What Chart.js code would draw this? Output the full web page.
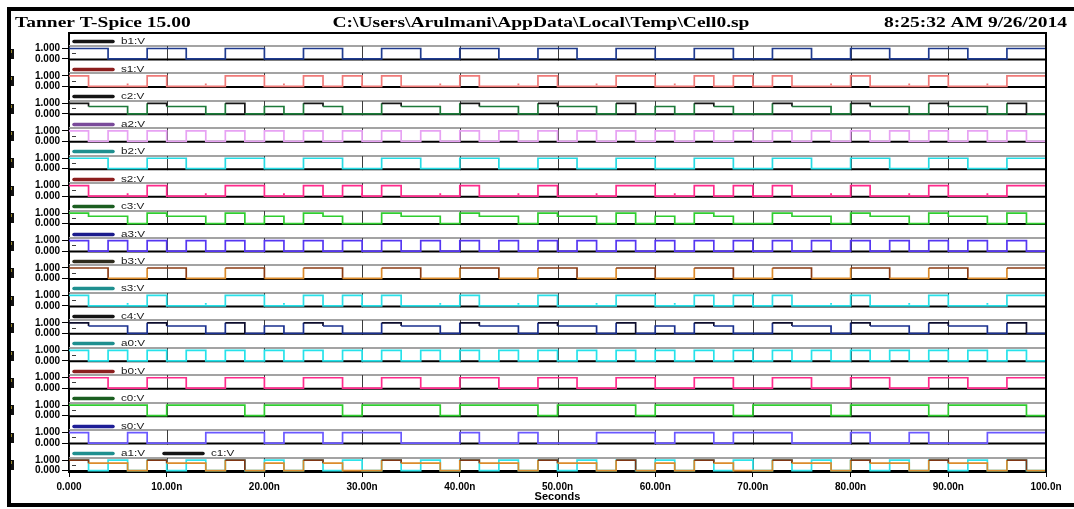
<!DOCTYPE html>
<html>
<head>
<meta charset="utf-8">
<script src="https://cdn.jsdelivr.net/npm/chart.js@4"></script>
<style>
  html, body { margin: 0; padding: 0; background: #fff; }
</style>
</head>
<body>
<canvas id="myChart" width="1074" height="509"></canvas>
<script>
// one value per 2 ns slot, 0..100 ns
const SLOT_NS = 2;

const a0 = [1,0,1,0,1,0,1,0,1,0, 1,0,1,0,1,0,1,0,1,0, 1,0,1,0,1,0,1,0,1,0, 1,0,1,0,1,0,1,0,1,0, 1,0,1,0,1,0,1,0,1,0];
const a1 = [1,0,1,0,1,0,1,0,1,0, 1,0,1,0,1,0,1,0,1,0, 1,0,1,0,1,0,1,0,1,0, 1,0,1,0,1,0,1,0,1,0, 1,0,1,0,1,0,1,0,1,0];
const a2 = [1,0,1,0,1,0,1,0,1,0, 1,0,1,0,1,0,1,0,1,0, 1,0,1,0,1,0,1,0,1,0, 1,0,1,0,1,0,1,0,1,0, 1,0,1,0,1,0,1,0,1,0];
const a3 = [1,0,1,0,1,0,1,0,1,0, 1,0,1,0,1,0,1,0,1,0, 1,0,1,0,1,0,1,0,1,0, 1,0,1,0,1,0,1,0,1,0, 1,0,1,0,1,0,1,0,1,0];

const b0 = [1,1,0,0,1,1,0,0,1,1, 0,0,1,1,0,0,1,1,0,0, 1,1,0,0,1,1,0,0,1,1, 0,0,1,1,0,0,1,1,0,0, 1,1,0,0,1,1,0,0,1,1];
const b1 = [1,1,0,0,1,1,0,0,1,1, 0,0,1,1,0,0,1,1,0,0, 1,1,0,0,1,1,0,0,1,1, 0,0,1,1,0,0,1,1,0,0, 1,1,0,0,1,1,0,0,1,1];
const b2 = [1,1,0,0,1,1,0,0,1,1, 0,0,1,1,0,0,1,1,0,0, 1,1,0,0,1,1,0,0,1,1, 0,0,1,1,0,0,1,1,0,0, 1,1,0,0,1,1,0,0,1,1];
const b3 = [1,1,0,0,1,1,0,0,1,1, 0,0,1,1,0,0,1,1,0,0, 1,1,0,0,1,1,0,0,1,1, 0,0,1,1,0,0,1,1,0,0, 1,1,0,0,1,1,0,0,1,1];

const c0 = [1,1,1,1,0,1,1,1,1,0, 1,1,1,1,0,1,1,1,1,0, 1,1,1,1,0,1,1,1,1,0, 1,1,1,1,0,1,1,1,1,0, 1,1,1,1,0,1,1,1,1,0];
const c1 = [1,.7,.7,0,1,.7,.7,0,1,0, .7,0,1,.7,0,0,1,.7,.7,0, 1,.7,.7,0,1,.7,.7,0,1,0, .7,0,1,.7,0,0,1,.7,.7,0, 1,.7,.7,0,1,.7,.7,0,1,0];
const c2 = [1,.7,.7,0,1,.7,.7,0,1,0, .7,0,1,.7,0,0,1,.7,.7,0, 1,.7,.7,0,1,.7,.7,0,1,0, .7,0,1,.7,0,0,1,.7,.7,0, 1,.7,.7,0,1,.7,.7,0,1,0];
const c3 = [1,.7,.7,0,1,.7,.7,0,1,0, .7,0,1,.7,0,0,1,.7,.7,0, 1,.7,.7,0,1,.7,.7,0,1,0, .7,0,1,.7,0,0,1,.7,.7,0, 1,.7,.7,0,1,.7,.7,0,1,0];
const c4 = [1,.7,.7,0,1,.7,.7,0,1,0, .7,0,1,.7,0,0,1,.7,.7,0, 1,.7,.7,0,1,.7,.7,0,1,0, .7,0,1,.7,0,0,1,.7,.7,0, 1,.7,.7,0,1,.7,.7,0,1,0];

const s0 = [1,0,0,1,0,0,0,1,1,1, 0,1,1,0,1,1,1,0,0,0, 1,0,0,1,0,0,0,1,1,1, 0,1,1,0,1,1,1,0,0,0, 1,0,0,1,0,0,0,1,1,1];
const s1 = [1,0,0,0,1,0,0,0,1,1, 0,0,1,0,1,0,1,0,0,0, 1,0,0,0,1,0,0,0,1,1, 0,0,1,0,1,0,1,0,0,0, 1,0,0,0,1,0,0,0,1,1];
const s2 = [1,0,0,0,1,0,0,0,1,1, 0,0,1,0,1,0,1,0,0,0, 1,0,0,0,1,0,0,0,1,1, 0,0,1,0,1,0,1,0,0,0, 1,0,0,0,1,0,0,0,1,1];
const s3 = [1,0,0,0,1,0,0,0,1,1, 0,0,1,0,1,0,1,0,0,0, 1,0,0,0,1,0,0,0,1,1, 0,0,1,0,1,0,1,0,0,0, 1,0,0,0,1,0,0,0,1,1];

// small spikes seen on the sum outputs
const sGlitchTimes = [6, 14, 22, 30, 38, 46, 54, 62, 70, 78, 86, 94];
const sGlitchLevel = 0.2;

// panels, top to bottom
const panelSignals = [["b1"],["s1"],["c2"],["a2"],["b2"],["s2"],["c3"],["a3"],
                      ["b3"],["s3"],["c4"],["a0"],["b0"],["c0"],["s0"],["a1","c1"]];
const xTickValues = [0,10,20,30,40,50,60,70,80,90,100];
const yTickValues = [0, 1];

const waves = {a0, a1, a2, a3, b0, b1, b2, b3, c0, c1, c2, c3, c4, s0, s1, s2, s3};

const traceColor = {
  b1: "#1f3b8f", s1: "#f07a78", c2: "#1d7a3a", a2: "#e7a2f3", b2: "#25dbe4",
  s2: "#ff2b8c", c3: "#2fcd2f", a3: "#5536f2", b3: "#dc8c2c", s3: "#2be0e8",
  c4: "#1a308e", a0: "#25e2ea", b0: "#ff2b8c", c0: "#2fcd2f", s0: "#6a58ff",
  a1: "#2ee3ea", c1: "#dc8c2c"
};
// some traces show their full-high stretches in a darker tone
const highColor = { c2: "#151515", c4: "#0c0c2c", b3: "#8c3c14", c1: "#803614" };
const swatchColor = {
  b1: "#151515", s1: "#8b1e1e", c2: "#151515", a2: "#7a4a9a", b2: "#1f8f8f",
  s2: "#8b1e1e", c3: "#1b5e20", a3: "#1b1b8c", b3: "#2d2a1c", s3: "#1f8f8f",
  c4: "#151515", a0: "#1f8f8f", b0: "#8b1e1e", c0: "#1b5e20", s0: "#1e1e96",
  a1: "#1f8f8f", c1: "#151515"
};

const Y_MIN = -0.14, Y_MAX = 2.48, PLOT_TOP = 1.24, LEGEND_LEVEL = 1.67;
const STRETCH = 1.3;   // the screenshot text is wider than it is tall

const toPoints = (levels) => {
  const pts = levels.map((v, k) => ({ x: k * SLOT_NS, y: v }));
  pts.push({ x: levels.length * SLOT_NS, y: levels[levels.length - 1] });
  return pts;
};

const fmtSeconds = (v) => {
  if (v === 0) return "0.000";
  return (v >= 100 ? v.toFixed(1) : v.toFixed(2)) + "n";
};

Chart.defaults.font.family = "Arial, 'Liberation Sans', sans-serif";
Chart.defaults.color = "#000";

let datasets = [];
let scales = {
  x: {
    type: "linear",
    position: "bottom",
    min: 0,
    max: 100,
    afterBuildTicks: (s) => { s.ticks = xTickValues.map((v) => ({ value: v })); },
    afterFit: (s) => { s.height = 32; },
    ticks: { autoSkip: false, maxRotation: 0, padding: 4, color: "#000",
             font: { size: 10, weight: "bold" }, callback: fmtSeconds },
    grid: { drawOnChartArea: false, tickLength: 5, color: "#000" },
    border: { color: "#000", width: 2 },
    title: { display: true, text: "Seconds", color: "#000",
             font: { size: 11, weight: "bold" }, padding: 0 },
  },
};

panelSignals.forEach((sigs, i) => {
  const id = "y" + i;
  scales[id] = {
    type: "linear",
    position: "left",
    stack: "panels",
    stackWeight: 1,
    weight: panelSignals.length - i,
    min: Y_MIN,
    max: Y_MAX,
    afterBuildTicks: (s) => { s.ticks = yTickValues.map((v) => ({ value: v })); },
    afterFit: (s) => { s.width = 59; },
    ticks: { autoSkip: false, padding: 2, color: "#000",
             font: { size: 10, weight: "bold" }, callback: (v) => v.toFixed(3) },
    grid: { drawOnChartArea: false, tickLength: 7, color: "#000" },
    border: { color: "#000", width: 2 },
  };
  sigs.forEach((name, j) => {
    const hi = highColor[name];
    datasets.push({
      label: name + ":V",
      data: toPoints(waves[name]),
      yAxisID: id,
      order: sigs.length - j,
      stepped: true,
      borderColor: traceColor[name],
      borderWidth: 1.7,
      pointRadius: 0,
      fill: false,
      segment: hi ? { borderColor: (c) => (c.p0.parsed.y >= 0.95 ? hi : traceColor[name]) } : {},
    });
    if (name[0] === "s" && name !== "s0") {
      datasets.push({
        label: name + " glitch",
        data: sGlitchTimes.map((t) => ({ x: t, y: sGlitchLevel })),
        yAxisID: id,
        showLine: false,
        pointRadius: 1.3,
        pointStyle: "rect",
        pointBackgroundColor: traceColor[name],
        pointBorderWidth: 0,
      });
    }
  });
});

const line = (ctx, x0, y0, x1, y1) => {
  ctx.beginPath();
  ctx.moveTo(x0, y0);
  ctx.lineTo(x1, y1);
  ctx.stroke();
};

const stretchedText = (ctx, text, x, y, align) => {
  const w = ctx.measureText(text).width * STRETCH;
  const x0 = align === "right" ? x - w : align === "center" ? x - w / 2 : x;
  ctx.save();
  ctx.translate(x0, y);
  ctx.scale(STRETCH, 1);
  ctx.textAlign = "left";
  ctx.fillText(text, 0, 0);
  ctx.restore();
};

const panelDecor = {
  id: "panelDecor",
  beforeDatasetsDraw(chart) {
    const { ctx, chartArea: area } = chart;
    const xs = chart.scales.x;
    ctx.save();
    panelSignals.forEach((sigs, i) => {
      const ys = chart.scales["y" + i];
      const top = Math.round(ys.getPixelForValue(PLOT_TOP));
      ctx.strokeStyle = "#a3a3a3";
      ctx.lineWidth = 2;
      line(ctx, area.left, top, area.right, top);
      ctx.strokeStyle = "#3c3c3c";
      ctx.lineWidth = 1;
      xs.ticks.forEach((t) => {
        const px = Math.round(xs.getPixelForValue(t.value)) + 0.5;
        line(ctx, px, top, px, ys.bottom);
      });
      const mid = Math.round(ys.getPixelForValue(0.55)) + 0.5;
      line(ctx, area.left + 3, mid, area.left + 7, mid);
      ctx.strokeStyle = "#000";
      ctx.lineWidth = 2;
      line(ctx, area.left, ys.bottom - 1, area.right, ys.bottom - 1);
    });
    ctx.restore();
  },
  afterDraw(chart) {
    const { ctx, chartArea: area, width } = chart;
    ctx.save();
    // plot box top and right edges
    ctx.strokeStyle = "#000";
    ctx.lineWidth = 2;
    line(ctx, area.left - 1, area.top, area.right + 1, area.top);
    line(ctx, area.right, area.top, area.right, area.bottom);

    panelSignals.forEach((sigs, i) => {
      const ys = chart.scales["y" + i];
      const ly = Math.round(ys.getPixelForValue(LEGEND_LEVEL)) + 0.5;
      sigs.forEach((name, j) => {
        const x0 = area.left + 5 + j * 90;
        ctx.strokeStyle = swatchColor[name];
        ctx.lineWidth = 3.5;
        ctx.lineCap = "round";
        line(ctx, x0, ly, x0 + 39, ly);
        ctx.fillStyle = "#1a1a1a";
        ctx.font = "9px Arial, 'Liberation Sans', sans-serif";
        ctx.textBaseline = "middle";
        stretchedText(ctx, name + ":V", x0 + 47, ly, "left");
      });
      // channel marker at the far left
      const iy = Math.round(ys.getPixelForValue(0.5));
      ctx.fillStyle = "#111";
      ctx.fillRect(9, iy - 5, 5, 10);
      ctx.fillStyle = "#9b8a2e";
      ctx.fillRect(10, iy - 4, 2, 3);
    });

    // window frame
    ctx.fillStyle = "#000";
    ctx.fillRect(7, 7, width - 7, 4);
    ctx.fillRect(7, 7, 4, 500);
    ctx.fillRect(7, 503, width - 7, 4);

    // header line
    ctx.fillStyle = "#000";
    ctx.font = "bold 15px 'Liberation Serif', 'Times New Roman', serif";
    ctx.textBaseline = "alphabetic";
    stretchedText(ctx, "Tanner T-Spice 15.00", 15, 27, "left");
    stretchedText(ctx, "C:\\Users\\Arulmani\\AppData\\Local\\Temp\\Cell0.sp", 541, 27, "center");
    stretchedText(ctx, "8:25:32 AM 9/26/2014", 1067, 27, "right");
    ctx.restore();
  },
};

const ctx = document.getElementById("myChart");
let myChart = new Chart(ctx, {
  type: "line",
  data: { datasets: datasets },
  options: {
    responsive: false,
    maintainAspectRatio: false,
    devicePixelRatio: 1,
    animation: false,
    layout: { padding: { left: 10, right: 28, top: 33, bottom: 5 } },
    plugins: { legend: { display: false }, tooltip: { enabled: false } },
    scales: scales,
  },
  plugins: [panelDecor],
});
</script>
</body>
</html>
